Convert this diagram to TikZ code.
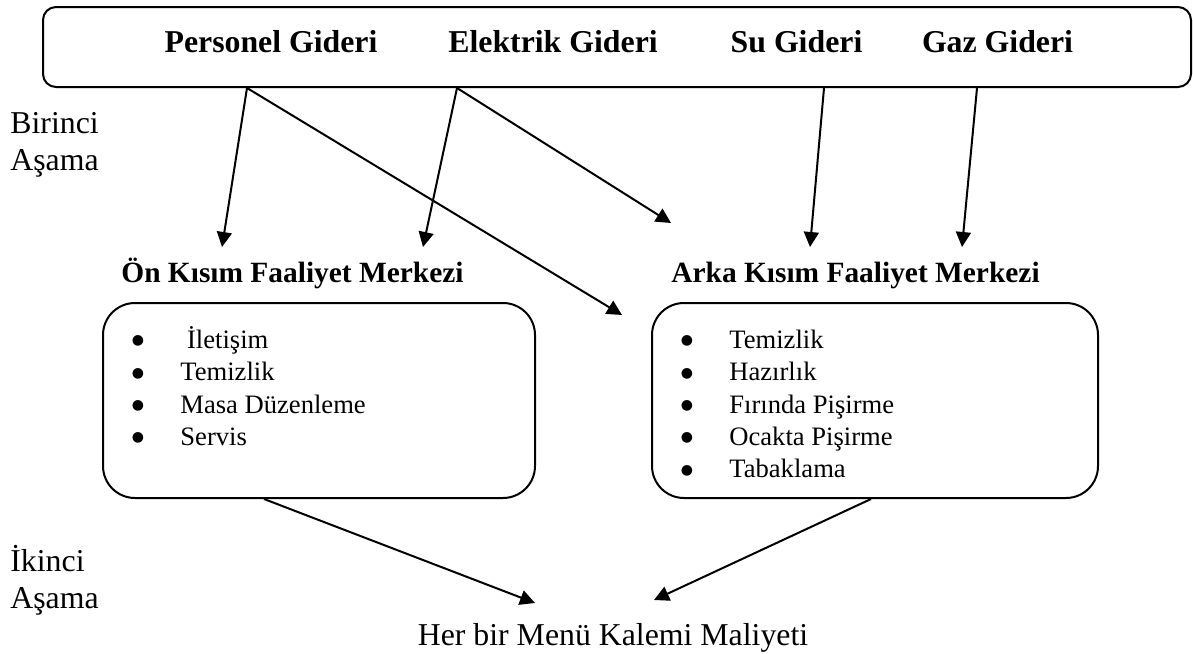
\documentclass[tikz,border=0pt]{standalone}
\usepackage{fontspec}
\setmainfont{Liberation Serif}
\newfontfamily\bulletfont{DejaVu Sans}
\usepackage{tikz}
\usetikzlibrary{arrows.meta, positioning, calc}
\tikzset{
  costbox/.style={
    draw, line width=1pt, rounded corners=6.5pt, fill=white
  },
  centerbox/.style={
    draw, line width=1pt, rounded corners=16pt, fill=white,
    minimum height=97.5pt
  },
  costlabel/.style={
    anchor=base, inner sep=0pt, font=\fontsize{15.9}{19}\selectfont\bfseries
  },
  centerlabel/.style={
    anchor=base west, inner sep=0pt, font=\fontsize{14.7}{18}\selectfont\bfseries
  },
  activity/.style={
    anchor=base west, inner sep=0pt, font=\fontsize{13.3}{16}\selectfont
  },
  actbullet/.style={
    anchor=base, inner sep=0pt, yshift=1.6pt, font=\bulletfont\fontsize{7}{7}\selectfont
  },
  stagelabel/.style={
    anchor=base west, inner sep=0pt, align=left,
    font=\fontsize{15.9}{18.2}\selectfont
  },
  costarrow/.style={
    -{Triangle[length=7.5pt, width=7.5pt]}, line width=1pt
  },
}

\begin{document}
\begin{tikzpicture}[x=0.5pt, y=-0.5pt]
  \useasboundingbox (0,0) rectangle (1193,653);

  % === Cost pool ===
  \node[costbox, minimum width=574pt, minimum height=40pt] (costs) at (617,47) {};
  \node[costlabel] (pers) at (271,52) {Personel Gideri};
  \node[costlabel] (elec) at (553,52) {Elektrik Gideri};
  \node[costlabel] (water) at (796.5,52) {Su Gideri};
  \node[costlabel] (gas) at (997.5,52) {Gaz Gideri};

  % === Stages (base = last line) ===
  \node[stagelabel] (stage1) at (10,170) {Birinci\\Aşama};
  \node[stagelabel] (stage2) at (10,608) {İkinci\\Aşama};

  % === Activity centres ===
  \node[centerlabel] (frontlbl) at (121,282) {Ön Kısım Faaliyet Merkezi};
  \node[centerlabel] (backlbl) at (671,282) {Arka Kısım Faaliyet Merkezi};

  \node[centerbox, minimum width=216pt] (front) at (319,400.5) {};
  \node[centerbox, minimum width=223pt] (back) at (875,400.5) {};

  \node[activity] (f1) at (180,348) {~İletişim};
  \node[activity] (f2) at (180,380.5) {Temizlik};
  \node[activity] (f3) at (180,413) {Masa Düzenleme};
  \node[activity] (f4) at (180,445) {Servis};
  \node[actbullet, left=21pt of f1.base west, anchor=base] {●};
  \node[actbullet, left=21pt of f2.base west, anchor=base] {●};
  \node[actbullet, left=21pt of f3.base west, anchor=base] {●};
  \node[actbullet, left=21pt of f4.base west, anchor=base] {●};

  \node[activity] (b1) at (729,348) {Temizlik};
  \node[activity] (b2) at (729,380.5) {Hazırlık};
  \node[activity] (b3) at (729,413) {Fırında Pişirme};
  \node[activity] (b4) at (729,445) {Ocakta Pişirme};
  \node[activity] (b5) at (729,477.5) {Tabaklama};
  \node[actbullet, left=21pt of b1.base west, anchor=base] {●};
  \node[actbullet, left=21pt of b2.base west, anchor=base] {●};
  \node[actbullet, left=21pt of b3.base west, anchor=base] {●};
  \node[actbullet, left=21pt of b4.base west, anchor=base] {●};
  \node[actbullet, left=21pt of b5.base west, anchor=base] {●};

  % === Menu item cost ===
  \node[anchor=base, inner sep=0pt, font=\fontsize{15.9}{19}\selectfont] (menu) at (613,645)
    {Her bir Menü Kalemi Maliyeti};

  % === Arrow ends ===
  \coordinate (pers-front) at (222,247);
  \coordinate (elec-front) at (423,247);
  \coordinate (pers-back) at (622,315);
  \coordinate (elec-back) at (671,223);
  \coordinate (water-back) at (810,247);
  \coordinate (gas-back) at (962,247);
  \coordinate (front-menu) at (535,603);
  \coordinate (back-menu) at (654,600);

  % === Arrows: first stage ===
  \draw[costarrow] ($(costs.south west)+(205,0)$) -- (pers-front);
  \draw[costarrow] ($(costs.south west)+(205,0)$) -- (pers-back);
  \draw[costarrow] ($(costs.south west)+(415,0)$) -- (elec-front);
  \draw[costarrow] ($(costs.south west)+(415,0)$) -- (elec-back);
  \draw[costarrow] ($(costs.south west)+(782,0)$) -- (water-back);
  \draw[costarrow] ($(costs.south west)+(935,0)$) -- (gas-back);

  % === Arrows: second stage ===
  \draw[costarrow] ($(front.south west)+(162,0)$) -- (front-menu);
  \draw[costarrow] ($(back.south west)+(220,0)$) -- (back-menu);

\end{tikzpicture}
\end{document}
